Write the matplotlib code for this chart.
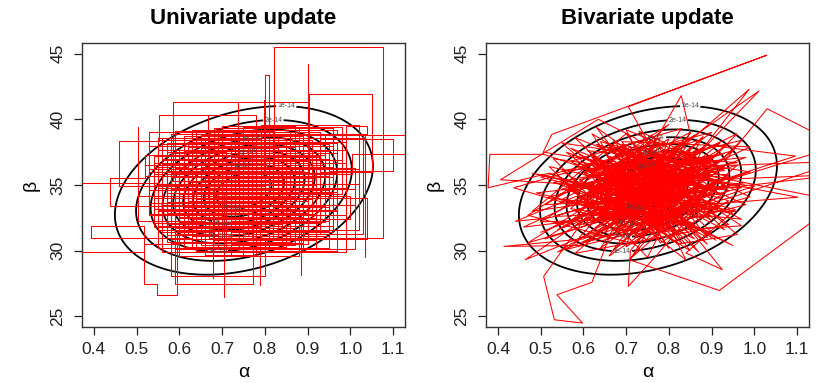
import numpy as np
import matplotlib
matplotlib.use("Agg")
import matplotlib.pyplot as plt

plt.rcParams['font.family'] = ['Liberation Sans', 'DejaVu Sans']

# ---------------- data ----------------
titles = ["Univariate update", "Bivariate update"]
x_label = "α"
y_label = "β"
x_ticks = [0.4, 0.5, 0.6, 0.7, 0.8, 0.9, 1.0, 1.1]
y_ticks = [25, 30, 35, 40, 45]

# likelihood surface (bivariate-normal shaped) parameters
peak_lik = 1.0e-13
mean_alpha = 0.751
mean_beta = 34.59
sd_alpha = 0.1407
sd_beta = 2.987
rho = 0.29
contour_levels = [1e-14, 2e-14, 3e-14, 4e-14, 5e-14, 6e-14, 7e-14, 8e-14, 9e-14]
label_x = [0.85, 0.82, 0.69, 0.77, 0.69, 0.76, 0.70, 0.75, 0.72]
label_top = [True, True, False, True, False, True, False, True, False]

# univariate-update chain states
alpha_u = [0.72, 0.68, 0.75, 0.63, 0.70, 0.78, 0.66, 0.59, 0.81, 0.73, 0.64, 0.86, 0.69, 0.57, 0.76,
           0.822, 1.077, 0.87, 0.74, 0.61, 0.83, 0.67, 0.9016, 0.9016, 0.71, 0.55, 0.79, 0.65,
           0.52, 0.437, 0.60, 0.77, 0.62, 0.84, 0.70, 0.55, 0.36, 0.517, 0.392, 0.63, 0.80, 0.68,
           0.58, 0.75, 0.458, 0.552, 0.78, 0.66, 0.503, 0.503, 0.72, 0.88, 0.74, 0.64, 0.60,
           0.517, 0.548, 0.5946, 0.69, 0.705, 0.705, 0.82, 0.90, 0.77, 0.59, 0.772, 0.789, 0.789,
           0.67, 0.737, 0.737, 0.61, 0.78, 1.2, 1.005, 0.85, 0.73, 0.62, 0.58, 0.80, 0.885, 0.885,
           0.71, 0.6786, 0.6786, 0.56, 0.668, 0.668, 0.83, 0.585, 0.90, 0.76, 0.65, 0.797, 0.797,
           0.904, 1.05, 0.93, 1.10, 0.95, 0.80, 0.81, 0.69, 0.57, 0.74, 0.86, 1.034, 1.034, 0.88,
           0.72, 0.62, 0.54, 0.70, 0.79, 0.66, 0.97, 0.75, 0.60, 0.84, 0.71, 0.56, 0.68, 0.82,
           0.95, 0.73, 0.64, 0.87, 0.53, 0.77, 0.69, 1.04, 0.99, 0.61, 0.74, 0.58, 0.81, 0.92,
           0.70, 0.63, 0.76, 0.55, 0.79, 0.67, 0.89, 0.71, 0.60, 0.85, 0.73, 0.98, 0.65, 0.78,
           0.62, 0.74, 0.83, 0.69, 0.57, 0.80, 0.72, 0.95, 0.66, 0.76,
           0.58, 0.97, 0.63, 0.88, 0.54, 0.79, 1.02, 0.60, 0.75, 0.93, 0.67, 0.55, 0.84, 0.71,
           0.99, 0.62, 0.77, 0.90, 0.53, 0.81, 0.68, 0.96, 0.57, 0.86, 0.73, 0.61, 0.94, 0.70,
           0.82, 0.59, 1.01, 0.66, 0.78, 0.56, 0.89, 0.74, 0.63, 0.97, 0.69, 0.85, 0.54, 0.80,
           0.72, 0.92, 0.60, 0.76, 1.03, 0.65, 0.83, 0.58, 0.91, 0.70, 0.87, 0.62, 0.79, 0.55,
           0.95, 0.73, 0.64, 0.86, 0.52, 0.77, 0.99, 0.68, 0.81, 0.59, 0.93, 0.71, 0.57, 0.84,
           0.66, 0.96, 0.75, 0.61, 0.88, 0.69, 0.54, 0.82, 1.00, 0.63, 0.78, 0.72, 0.90, 0.58,
           0.85, 0.67, 0.94, 0.74, 0.60, 0.80, 0.56, 0.89, 0.70, 0.97, 0.65, 0.83, 0.53, 0.76,
           0.92, 0.68, 0.87, 0.62, 1.02, 0.73, 0.59, 0.81, 0.71, 0.95, 0.64, 0.79, 0.57, 0.86,
           0.69, 0.98, 0.75, 0.61, 0.84, 0.66, 0.91, 0.55, 0.77, 0.72, 0.88, 0.63, 0.80, 0.96,
           0.58, 0.74, 0.85, 0.67, 1.04, 0.70, 0.60, 0.82, 0.93, 0.54, 0.78, 0.69, 0.87, 0.65,
           0.99, 0.73, 0.57, 0.83, 0.62, 0.90, 0.76, 0.68, 0.94, 0.59, 0.81, 0.71, 0.86, 0.64,
           0.97, 0.75, 0.56, 0.79, 0.66, 0.92, 0.72, 0.84, 0.61, 0.89, 0.70, 0.53, 0.80, 0.95,
           0.67, 0.77, 0.63, 0.88, 0.74, 1.01, 0.58, 0.83, 0.69, 0.91, 0.60, 0.78, 0.65, 0.86,
           0.73, 0.96, 0.55, 0.82, 0.71, 0.87, 0.62, 0.76]
beta_u = [34.1, 33.2, 35.6, 32.4, 36.8, 33.9, 31.7, 34.6, 35.2, 32.8, 37.4, 34.3, 31.2, 33.7, 36.2,
          45.46, 30.97, 33.6, 35.9, 32.1, 37.8, 34.8, 44.2, 32.9, 31.6, 35.1, 33.4, 36.5,
          35.55, 33.39, 32.5, 38.2, 34.0, 31.9, 33.1, 35.17, 29.88, 31.86, 30.98, 33.6, 36.4, 30.6,
          33.0, 34.9, 38.34, 40.3, 36.9, 32.3, 39.4, 34.2, 31.4, 35.5, 33.0, 35.8, 30.5,
          27.49, 26.65, 31.5, 34.4, 26.45, 33.5, 32.2, 36.8, 34.0, 27.5, 33.0, 27.4, 34.5,
          36.1, 41.3, 35.0, 33.3, 38.77, 37.33, 35.8, 33.8, 36.6, 31.2, 28.1, 31.0, 28.18, 32.5,
          34.7, 27.9, 33.2, 36.9, 40.24, 34.0, 35.3, 41.34, 36.5, 32.6, 37.9, 41.5, 36.0,
          41.95, 36.0, 38.5, 36.1, 34.6, 43.35, 35.0, 32.0, 32.9, 30.4, 38.9, 29.5, 38.6, 37.2,
          33.8, 36.4, 32.7, 35.3, 31.8, 34.5, 33.1, 36.0, 34.3, 32.4, 37.0, 31.4, 35.0, 33.3,
          37.6, 31.9, 33.9, 36.2, 34.6, 32.1, 38.9, 39.5, 34.8, 37.3, 33.4, 35.9, 30.2, 32.8,
          34.9, 31.1, 37.7, 33.0, 35.5, 32.6, 34.0, 36.3, 33.5, 31.5, 34.3, 36.9, 35.4, 32.9,
          37.0, 30.9, 34.7, 33.6, 36.1, 34.1, 32.3, 35.7, 38.6, 33.7,
          38.9, 39.2, 30.1, 33.2, 36.7, 39.6, 35.1, 29.6, 37.1, 31.3, 38.4, 31.9, 36.0, 29.9,
          38.3, 35.2, 30.8, 39.0, 33.6, 32.0, 39.3, 34.4, 30.7, 38.0, 35.6, 32.2, 36.5, 31.0,
          39.1, 36.3, 33.5, 29.7, 34.9, 38.6, 30.6, 36.9, 33.1, 37.4, 30.3, 35.8, 34.0, 38.7,
          32.5, 35.0, 37.7, 31.3, 38.8, 34.2, 30.9, 35.3, 33.9, 39.5, 31.7, 36.8, 33.0, 30.2,
          38.1, 34.6, 31.5, 37.3, 35.7, 32.7, 36.3, 33.3, 30.1, 39.0, 34.8, 37.5, 32.0, 35.4,
          38.0, 31.9, 33.6, 36.0, 39.3, 31.8, 37.2, 34.2, 32.4, 35.0, 38.3, 30.5, 36.7, 33.4,
          31.0, 37.0, 38.9, 32.2, 34.9, 36.6, 29.9, 35.2, 38.2, 33.0, 36.4, 32.8, 38.0, 35.9,
          30.8, 34.4, 37.9, 31.6, 36.2, 39.0, 33.2, 35.0, 31.1, 37.0, 38.5, 34.0, 36.5, 32.9,
          35.8, 39.4, 30.7, 37.6, 33.7, 32.4, 38.4, 34.8, 36.3, 29.6, 34.5, 39.2, 31.4, 35.6,
          37.4, 33.9, 38.6, 30.9, 34.0, 36.0, 32.6, 37.2, 32.1, 35.0, 39.3, 34.1, 30.4, 36.7,
          37.7, 31.8, 38.2, 35.1, 33.8, 38.0, 32.0, 37.3, 33.4, 31.3, 36.8, 34.8, 39.0, 30.0,
          35.9, 38.1, 33.5, 31.6, 35.5, 37.1, 33.2, 30.3, 38.7, 36.1, 32.7, 36.0, 34.6, 31.5,
          39.1, 35.3, 32.9, 37.6, 30.1, 34.7, 36.2, 38.8, 33.0, 35.9, 31.9, 37.8, 34.3, 32.3,
          36.4, 38.6, 32.8, 35.7, 30.6, 34.2, 37.9, 33.5]

# bivariate-update chain states
alpha_b = [0.75, 0.81, 0.70, 0.86, 0.66, 0.78, 0.92, 0.72, 0.60, 0.83, 0.74, 0.89, 0.68, 0.79, 0.63,
           0.85, 0.71, 0.97, 0.76, 0.58, 0.82, 0.69, 0.90, 0.73, 0.64, 0.87, 0.506, 0.526, 1.029,
           0.705, 0.77, 0.62, 0.80, 0.93, 0.67, 0.75, 0.55, 0.84, 0.71, 0.96, 0.61, 0.79, 0.88,
           0.65, 0.74, 0.507, 0.381, 0.377, 0.52, 0.68, 0.82, 0.57, 0.76, 0.91, 0.70, 0.81, 0.60,
           0.406, 0.635, 0.72, 0.85, 0.66, 0.78, 0.94, 0.73, 0.56, 0.437, 0.62, 0.80, 0.69, 0.87,
           0.75, 0.64, 0.83, 0.71, 0.98, 0.77, 0.59, 0.414, 0.60, 0.74, 0.67, 0.86, 0.72, 0.52,
           0.441, 0.58, 0.79, 0.90, 0.70, 0.63, 0.82, 0.68, 0.76, 0.464, 0.61, 0.78, 0.88, 0.65,
           0.507, 0.532, 0.598, 0.538, 0.62, 0.66, 0.80, 0.73, 0.84, 0.69, 0.93, 0.75, 0.62, 0.81,
           0.71, 0.705, 0.77, 0.87, 0.76, 0.64, 0.83, 0.709, 0.918, 1.2, 0.88, 0.74, 0.86, 1.2,
           0.96, 0.79, 0.67, 0.88, 1.102, 0.92, 0.78, 0.70, 0.85, 1.096, 0.90, 0.76, 1.2, 0.84,
           0.72, 0.93, 1.03, 1.2, 0.95, 0.80, 0.988, 0.87, 1.011, 0.84, 0.76, 0.829, 0.85, 0.73,
           0.66, 0.81, 0.925, 0.84, 0.955, 0.77, 0.62, 0.74, 0.89, 0.69, 0.80, 0.96, 0.82, 0.71,
           0.79, 0.65, 0.86, 0.75, 0.60, 0.82, 0.70, 0.91, 0.68, 0.78, 0.63, 0.87, 0.73, 0.80,
           0.67, 0.84, 0.74, 0.93, 0.71, 0.59, 0.77, 0.85, 0.72, 0.81, 0.66, 0.90, 0.76,
           0.48, 0.70, 0.89, 0.57, 0.83, 0.64, 0.95, 0.52, 0.78, 0.68, 0.92, 0.46, 0.73, 0.86,
           0.60, 0.99, 0.55, 0.81, 0.69, 0.90, 0.50, 0.77, 0.63, 0.94, 0.58, 0.84, 0.67, 1.00,
           0.53, 0.75, 0.88, 0.61, 0.80, 0.47, 0.72, 0.97, 0.59, 0.85, 0.66, 0.91, 0.51, 0.79,
           0.65, 0.96, 0.56, 0.82, 0.70, 0.93, 0.49, 0.76, 0.62, 0.87, 0.71, 0.98, 0.54, 0.80,
           0.66, 0.89, 0.58, 0.74, 0.95, 0.61, 0.84, 0.69, 0.52, 0.78, 0.92, 0.64, 0.86, 0.57,
           0.73, 0.99, 0.60, 0.83, 0.68, 0.90, 0.50, 0.77, 0.63, 0.94, 0.72, 0.85, 0.55, 0.81,
           0.67, 0.97, 0.59, 0.75, 0.88, 0.62, 0.80, 0.70, 0.93, 0.53, 0.79, 0.65, 0.91, 0.57,
           0.84, 0.71, 0.96, 0.60, 0.76, 0.87, 0.48, 0.74, 0.63, 0.89, 0.68, 0.82, 0.56, 0.98,
           0.73, 0.61, 0.86, 0.66, 0.92, 0.51, 0.78, 0.70, 0.95, 0.58, 0.83, 0.64, 0.90, 0.54,
           0.80, 0.69, 0.99, 0.62, 0.85, 0.72, 0.47, 0.77, 0.93, 0.59, 0.81, 0.67, 0.88, 0.55,
           0.74, 0.96, 0.65, 0.84, 0.71, 0.60, 0.91, 0.53, 0.79, 0.68, 0.87, 0.62, 0.94, 0.75,
           0.57, 0.82, 0.70, 0.97, 0.63, 0.86, 0.50, 0.76, 0.89, 0.66, 0.80, 0.58, 0.92, 0.73,
           0.85, 0.61, 0.78, 0.69, 0.95, 0.56, 0.83, 0.72, 0.88, 0.64, 0.77, 0.60, 0.90, 0.74,
           0.67, 0.84, 0.71, 0.79]
beta_b = [34.6, 35.9, 33.2, 36.4, 34.9, 32.1, 35.3, 37.0, 33.5, 34.0, 36.8, 33.1, 35.7, 31.8, 36.2,
          37.5, 32.6, 34.8, 35.1, 31.9, 33.7, 38.1, 36.0, 30.9, 34.2, 35.6, 37.5, 38.85, 44.87,
          40.96, 37.2, 32.8, 34.3, 37.9, 33.0, 36.3, 34.7, 32.4, 35.4, 36.7, 37.6, 33.6, 38.7,
          31.4, 34.8, 37.33, 37.33, 34.79, 35.9, 33.9, 36.1, 32.2, 38.4, 34.5, 31.2, 37.3, 35.0,
          35.4, 40.0, 38.6, 35.0, 36.9, 30.6, 33.8, 35.8, 33.6, 34.79, 36.5, 32.9, 37.8, 34.1,
          31.5, 38.3, 36.6, 33.4, 35.2, 34.0, 30.4, 30.33, 30.9, 33.1, 35.3, 37.0, 34.4, 32.5,
          32.24, 34.1, 35.5, 32.3, 36.1, 33.3, 38.0, 31.6, 35.9, 29.32, 31.2, 33.8, 36.2, 34.6,
          28.05, 24.75, 24.5, 26.65, 27.6, 31.0, 34.9, 37.4, 33.0, 35.1, 36.4, 32.3, 37.1, 34.2,
          30.0, 27.29, 29.6, 33.4, 36.0, 33.0, 35.7, 29.3, 26.98, 33.77, 35.8, 33.7, 36.4, 36.8,
          34.2, 32.6, 34.3, 33.5, 34.07, 35.2, 37.1, 32.7, 34.6, 37.2, 38.0, 35.2, 35.8, 34.4,
          36.3, 36.8, 40.8, 38.0, 35.5, 37.0, 42.28, 37.4, 42.15, 38.3, 37.9, 41.8, 38.9, 35.0,
          32.4, 33.2, 28.56, 29.83, 33.13, 34.7, 35.6, 31.4, 34.9, 36.7, 35.6, 31.23, 30.5, 33.8,
          36.5, 35.2, 32.0, 33.9, 36.0, 37.6, 34.5, 36.6, 32.0, 34.1, 34.8, 35.4, 33.0, 38.5,
          36.0, 34.7, 32.0, 35.0, 37.3, 33.8, 35.5, 31.7, 36.8, 34.5, 33.1, 37.2, 34.3,
          33.0, 38.9, 31.0, 36.8, 39.3, 30.2, 37.6, 34.1, 31.9, 37.7, 33.6, 31.8, 35.9, 38.8,
          32.0, 36.0, 38.2, 30.7, 34.0, 39.0, 35.6, 33.4, 39.4, 32.0, 29.8, 36.9, 31.5, 34.9,
          37.0, 29.5, 37.8, 34.3, 39.6, 32.7, 30.5, 38.4, 35.4, 30.0, 38.0, 35.1, 30.9, 37.0,
          32.9, 33.0, 35.0, 31.3, 39.2, 36.1, 34.4, 32.2, 37.4, 29.9, 36.2, 37.1, 31.6, 35.9,
          29.6, 34.7, 38.6, 33.6, 30.4, 36.1, 37.9, 31.1, 36.4, 34.5, 38.2, 33.9, 31.8, 33.2,
          38.0, 34.1, 30.6, 35.3, 36.5, 32.6, 32.2, 37.6, 35.7, 35.8, 31.0, 39.0, 33.9, 33.0,
          38.4, 31.9, 31.0, 36.6, 33.9, 38.9, 30.2, 35.0, 37.4, 35.2, 32.4, 36.3, 30.8, 37.8,
          34.4, 29.4, 36.5, 33.4, 38.8, 32.9, 35.9, 34.2, 31.8, 38.1, 33.7, 36.4, 30.1, 33.5,
          37.1, 34.8, 30.9, 37.2, 34.3, 33.5, 38.6, 30.3, 35.5, 36.6, 32.1, 35.5, 37.0, 29.9,
          33.4, 38.3, 37.9, 32.3, 35.2, 33.0, 30.6, 36.7, 31.6, 37.3, 34.0, 30.0, 36.9, 36.1,
          31.7, 38.9, 34.1, 29.3, 37.9, 35.8, 33.2, 32.6, 35.1, 31.3, 38.4, 36.0, 34.6, 30.8,
          34.6, 37.5, 33.3, 32.4, 38.1, 35.9, 31.4, 34.9, 30.5, 36.8, 31.6, 33.0, 36.3, 39.1,
          33.3, 30.7, 36.0, 34.7, 32.8, 37.5, 30.6, 35.6, 35.0, 32.5, 38.2, 34.0, 31.4, 36.4,
          33.5, 37.1, 32.1, 34.3]

# ---------------- plotting ----------------
grid_a = np.linspace(0.4, 1.1, 301)
grid_b = np.linspace(25, 45, 301)
A, B = np.meshgrid(grid_a, grid_b)
za = (A - mean_alpha) / sd_alpha
zb = (B - mean_beta) / sd_beta
Q = (za**2 - 2 * rho * za * zb + zb**2) / (1 - rho**2)
L = peak_lik * np.exp(-0.5 * Q)


def label_positions():
    pos = []
    for lev, x, top in zip(contour_levels, label_x, label_top):
        qk = 2 * np.log(peak_lik / lev)
        zx = (x - mean_alpha) / sd_alpha
        disc = max((1 - rho**2) * (qk - zx**2), 0)
        zy = rho * zx + (np.sqrt(disc) if top else -np.sqrt(disc))
        pos.append((x, mean_beta + zy * sd_beta))
    return pos


fig = plt.figure(figsize=(8.23, 3.83), dpi=100)
axes = [fig.add_axes([0.0996, 0.1462, 0.3925, 0.7415]),
        fig.add_axes([0.5905, 0.1462, 0.3925, 0.7415])]

for i, ax in enumerate(axes):
    cs = ax.contour(A, B, L, levels=contour_levels, colors='black', linewidths=1.3, zorder=2)
    ax.clabel(cs, inline=True, fontsize=5, colors='#444444',
              fmt=lambda v: f"{int(round(v / 1e-14))}e-14", manual=label_positions(),
              inline_spacing=2)
    if i == 0:
        ax.plot(alpha_u, beta_u, color='red', lw=0.75, drawstyle='steps-post', zorder=3)
    else:
        ax.plot(alpha_b, beta_b, color='red', lw=0.75, zorder=3)
    ax.set_xlim(0.372, 1.128)
    ax.set_ylim(24.2, 45.8)
    ax.set_xticks(x_ticks)
    ax.set_xticklabels([f"{t:.1f}" for t in x_ticks])
    ax.set_yticks(y_ticks)
    ax.set_yticklabels([str(t) for t in y_ticks], rotation=90, va='center')
    ax.tick_params(axis='both', direction='out', length=6, width=0.9, labelsize=12.5, colors='#222222')
    ax.tick_params(axis='x', pad=5)
    ax.tick_params(axis='y', pad=6)
    for s in ax.spines.values():
        s.set_linewidth(1.0)
        s.set_color('#333333')
    bb = ax.get_position()
    fig.text((bb.x0 + bb.x1) / 2, 0.952, titles[i], ha='center', va='center',
             fontsize=16, fontweight='bold')
    fig.text((bb.x0 + bb.x1) / 2, 0.028, x_label, ha='center', va='center', fontsize=14)
    fig.text(bb.x0 - 0.062, (bb.y0 + bb.y1) / 2, y_label, ha='center', va='center',
             fontsize=14, rotation=90)

fig.savefig("out.png", dpi=100)
